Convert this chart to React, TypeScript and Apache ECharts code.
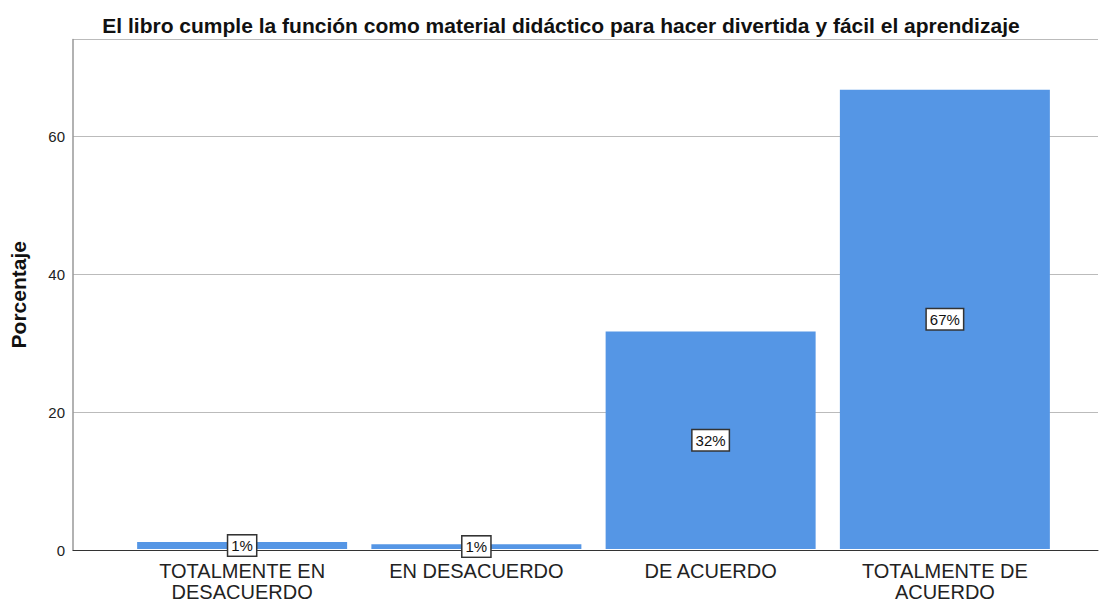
import React, { useEffect, useRef } from "react";
import * as echarts from "echarts";

const TITLE = "El libro cumple la función como material didáctico para hacer divertida y fácil el aprendizaje";
const Y_NAME = "Porcentaje";
const categories = ["TOTALMENTE EN\nDESACUERDO", "EN DESACUERDO", "DE ACUERDO", "TOTALMENTE DE\nACUERDO"];
const values = [1.0, 0.7, 31.6, 66.7];
const labels = ["1%", "1%", "32%", "67%"];
const Y_MAX = 74;

export default function App() {
  const ref = useRef<HTMLDivElement>(null);
  useEffect(() => {
    if (!ref.current) return;
    const chart = echarts.init(ref.current, null, { renderer: "svg" });
    const font = "Liberation Sans, Arial, sans-serif";
    chart.setOption({
      animation: false,
      backgroundColor: "#ffffff",
      title: {
        text: TITLE,
        left: 556,
        textAlign: "center",
        top: 10,
        textStyle: { fontFamily: font, fontSize: 21, fontWeight: "bold", color: "#111" },
      },
      grid: [
        { left: 73, right: 3, top: 39.4, bottom: 52 },
        { left: 125, right: 39, top: 39.4, bottom: 52 },
      ],
      xAxis: [
        {
          gridIndex: 0,
          type: "value",
          min: 0,
          max: 1,
          axisLine: { show: true, lineStyle: { color: "#333", width: 1 } },
          axisTick: { show: false },
          axisLabel: { show: false },
          splitLine: { show: false },
        },
        {
          gridIndex: 1,
          type: "category",
          data: categories,
          axisLine: { show: false },
          axisTick: { show: false },
          axisLabel: {
            fontFamily: font,
            fontSize: 20,
            color: "#222",
            lineHeight: 21,
            margin: 11,
            interval: 0,
          },
        },
      ],
      yAxis: [
        {
          gridIndex: 0,
          type: "value",
          min: 0,
          max: Y_MAX,
          interval: 20,
          name: Y_NAME,
          nameLocation: "middle",
          nameGap: 44,
          nameTextStyle: { fontFamily: font, fontSize: 21, fontWeight: "bold", color: "#111" },
          axisLine: { show: true, lineStyle: { color: "#999", width: 1.5 } },
          axisTick: { show: false },
          axisLabel: { fontFamily: font, fontSize: 15, color: "#222", margin: 8, showMaxLabel: false },
          splitLine: { show: true, lineStyle: { color: "#bbb", width: 1 } },
        },
        {
          gridIndex: 1,
          type: "value",
          min: 0,
          max: Y_MAX,
          show: false,
          splitLine: { show: false },
        },
      ],
      series: [
        {
          type: "bar",
          xAxisIndex: 1,
          yAxisIndex: 1,
          data: values,
          barWidth: 210,
          itemStyle: { color: "#5596e5" },
          label: {
            show: true,
            position: "inside",
            formatter: (p: any) => labels[p.dataIndex],
            fontFamily: font,
            fontSize: 15,
            color: "#111",
            backgroundColor: "#ffffff",
            borderColor: "#333",
            borderWidth: 1.5,
            padding: [3, 3, 2, 3],
          },
        },
      ],
    });
    return () => chart.dispose();
  }, []);
  return <div ref={ref} style={{ width: 1101, height: 602, position: "absolute", left: 0, top: 0 }} />;
}
